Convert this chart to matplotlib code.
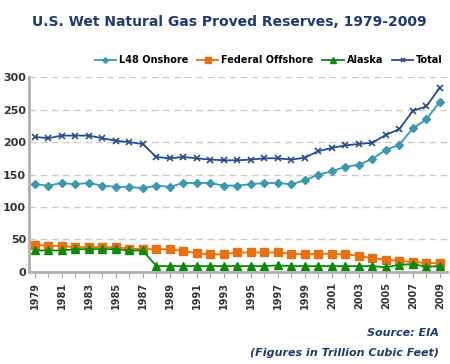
import matplotlib
matplotlib.use('Agg')
import matplotlib.pyplot as plt

years = list(range(1979, 2010))
l48_onshore = [135, 133, 137, 135, 137, 133, 131, 131, 129, 133, 131, 137, 137, 137, 133,
               133, 135, 137, 137, 135, 141, 150, 155, 162, 165, 174, 188, 196, 221, 235, 262]
federal_offshore = [42, 40, 40, 38, 38, 38, 38, 36, 35, 35, 35, 32, 29, 27, 27,
                    30, 30, 30, 30, 28, 27, 28, 28, 27, 25, 21, 19, 17, 15, 14, 13]
alaska = [33, 33, 33, 35, 35, 35, 35, 33, 33, 9, 9, 9, 9, 9, 9,
          9, 9, 9, 10, 9, 9, 9, 9, 9, 9, 9, 7, 11, 12, 8, 9]
total = [208, 206, 210, 210, 210, 206, 202, 200, 197, 177, 175, 177, 175, 173, 172,
         172, 173, 175, 175, 173, 176, 186, 191, 195, 197, 199, 211, 220, 248, 255, 284]
tick_years = list(range(1979, 2010, 2))

plt.rcParams['font.family'] = ['DejaVu Sans']

fig = plt.figure(figsize=(4.5, 3.64), dpi=100)
ax = fig.add_axes([0.064, 0.253, 0.929, 0.535])

ax.plot(years, l48_onshore, color='#3a98b0', marker='D', markersize=4, lw=1.3, label='L48 Onshore')
ax.plot(years, federal_offshore, color='#e8700f', marker='s', markersize=6, lw=1.3, label='Federal Offshore')
ax.plot(years, alaska, color='#0a8a0a', marker='^', markersize=6, lw=1.3, label='Alaska')
ax.plot(years, total, color='#274d8c', marker='x', markersize=5, mew=1.2, lw=1.3, label='Total')

ax.set_xlim(1978.56, 2009.52)
ax.set_ylim(0, 300)
ax.set_yticks(range(0, 301, 50))
ax.set_xticks(tick_years)
ax.set_xticks(years, minor=True)
ax.tick_params(axis='x', which='both', length=4, color='#aaaaaa', labelrotation=90,
               labelsize=7, pad=3)
ax.tick_params(axis='y', length=0, labelsize=8, pad=2)
for lab in ax.get_xticklabels() + ax.get_yticklabels():
    lab.set_fontweight('bold')
    lab.set_color('#333333')
ax.grid(axis='y', color='#cccccc', ls=(0, (5, 3)), lw=1)
ax.set_axisbelow(True)
for s in ['top', 'right']:
    ax.spines[s].set_visible(False)
for s in ['left', 'bottom']:
    ax.spines[s].set_color('#b0b0b0')
    ax.spines[s].set_linewidth(2)

ax.legend(loc='lower right', bbox_to_anchor=(1.0, 1.04), ncol=4, frameon=False,
          prop={'size': 7, 'weight': 'bold'}, handlelength=2.2, columnspacing=0.9,
          handletextpad=0.3, borderaxespad=0, markerscale=0.7)

fig.text(0.51, 0.94, 'U.S. Wet Natural Gas Proved Reserves, 1979-2009', ha='center',
         va='center', fontsize=10, fontweight='bold', color='#1f3a6e')
fig.text(0.975, 0.085, 'Source: EIA', ha='right', va='center', fontsize=8,
         fontweight='bold', style='italic', color='#1f3a6e')
fig.text(0.975, 0.03, '(Figures in Trillion Cubic Feet)', ha='right', va='center',
         fontsize=8, fontweight='bold', style='italic', color='#1f3a6e')

fig.savefig('out.png', dpi=100)
